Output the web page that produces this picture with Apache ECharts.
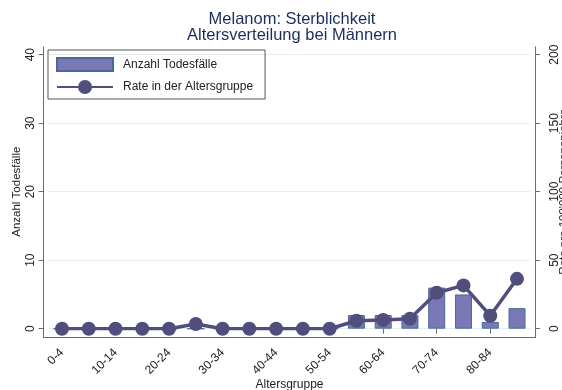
<!DOCTYPE html>
<html>
<head>
<meta charset="utf-8">
<script src="https://cdn.jsdelivr.net/npm/echarts@6/dist/echarts.min.js"></script>
<style>html,body{margin:0;padding:0;background:#fff}#c{width:562px;height:390px}</style>
</head>
<body>
<div id="c"></div>
<script>
var categories = ['0-4','5-9','10-14','15-19','20-24','25-29','30-34','35-39','40-44','45-49','50-54','55-59','60-64','65-69','70-74','75-79','80-84','85+'];
var deaths = [0,0,0,0,0,0,0,0,0,0,0,2,2,2,6,5,1,3];
var rates = [0,0,0,0,0,3.4,0,0,0,0,0,5.8,6.3,7.3,26.2,31.6,9.5,36.4];
var leftTicks = {min:0, max:40, interval:10};
var rightTicks = {min:0, max:200, interval:50};

var FONT = "'Liberation Sans', Arial, sans-serif";
var chart = echarts.init(document.getElementById('c'), null, {renderer:'canvas'});
var axisCol = '#6b6b6b';
var txt = '#222';
chart.setOption({
  animation:false,
  backgroundColor:'#fff',
  title:{
    text:'Melanom: Sterblichkeit\nAltersverteilung bei Männern',
    left:287, top:6, textAlign:'center',
    textStyle:{fontFamily:FONT, fontSize:16.5, fontWeight:'normal', color:'#1c2e5e', lineHeight:16.5}
  },
  legend:{
    orient:'vertical', left:48, top:50,
    padding:[7,12,5,8],
    itemWidth:56, itemHeight:17.5, itemGap:8,
    borderColor:'#555', borderWidth:1,
    textStyle:{fontFamily:FONT, fontSize:12, color:txt, padding:[0,0,0,5]},
    data:[
      {name:'Anzahl Todesfälle', icon:'path://M0,0h56v13h-56z'},
      {name:'Rate in der Altersgruppe'}
    ]
  },
  grid:[
    {left:48.6, right:31.6, top:54.7, bottom:61.3, containLabel:false, outerBoundsMode:'none'},
    {left:43.5, right:27, top:47, bottom:52.3, containLabel:false, outerBoundsMode:'none'}
  ],
  xAxis:[
    {type:'category', gridIndex:0, data:categories, boundaryGap:true, offset:9,
     axisLine:{show:false},
     axisTick:{show:true, interval:1, alignWithLabel:true, length:5, lineStyle:{color:axisCol}},
     axisLabel:{interval:1, rotate:45, margin:13, fontFamily:FONT, fontSize:12, color:txt},
     name:'Altersgruppe', nameLocation:'middle', nameGap:41, nameMoveOverlap:false,
     nameTextStyle:{fontFamily:FONT, fontSize:12, color:txt}
    },
    {type:'value', gridIndex:1, min:0, max:1,
     axisLine:{show:true, lineStyle:{color:axisCol}}, axisTick:{show:false}, axisLabel:{show:false}, splitLine:{show:false}}
  ],
  yAxis:[
    {type:'value', gridIndex:0, position:'left', min:leftTicks.min, max:leftTicks.max, interval:leftTicks.interval, offset:5,
     axisLine:{show:false},
     axisTick:{show:true, length:5, lineStyle:{color:axisCol}},
     axisLabel:{rotate:90, margin:7, fontFamily:FONT, fontSize:12, color:txt},
     splitLine:{show:true, lineStyle:{color:'#e4eef0', width:1}},
     name:'Anzahl Todesfälle', nameLocation:'middle', nameGap:21, nameMoveOverlap:false,
     nameTextStyle:{fontFamily:FONT, fontSize:11.5, color:txt}
    },
    {type:'value', gridIndex:0, position:'right', min:rightTicks.min, max:rightTicks.max, interval:rightTicks.interval, offset:4.6,
     axisLine:{show:false},
     axisTick:{show:true, length:5, lineStyle:{color:axisCol}},
     axisLabel:{rotate:90, margin:13.5, verticalAlign:'top', fontFamily:FONT, fontSize:12, color:txt},
     splitLine:{show:false},
     name:"Rate pro 100'000 Personenjahre", nameLocation:'middle', nameGap:23, nameRotate:90, nameMoveOverlap:false,
     nameTextStyle:{fontFamily:FONT, fontSize:11.5, color:txt}
    },
    {type:'value', gridIndex:1, position:'left', min:0, max:1,
     axisLine:{show:true, lineStyle:{color:axisCol}}, axisTick:{show:false}, axisLabel:{show:false}, splitLine:{show:false}},
    {type:'value', gridIndex:1, position:'right', min:0, max:1,
     axisLine:{show:true, lineStyle:{color:axisCol}}, axisTick:{show:false}, axisLabel:{show:false}, splitLine:{show:false}}
  ],
  series:[
    {name:'Anzahl Todesfälle', type:'bar', xAxisIndex:0, yAxisIndex:0, data:deaths, barWidth:17,
     itemStyle:{color:'#7a78b6', borderColor:'#4a6a94', borderWidth:1}},
    {name:'Rate in der Altersgruppe', type:'line', xAxisIndex:0, yAxisIndex:1, data:rates,
     symbol:'circle', symbolSize:14, z:5,
     lineStyle:{color:'#4f4e7d', width:3.5},
     itemStyle:{color:'#4f4e7d'}}
  ]
});
</script>
</body>
</html>
